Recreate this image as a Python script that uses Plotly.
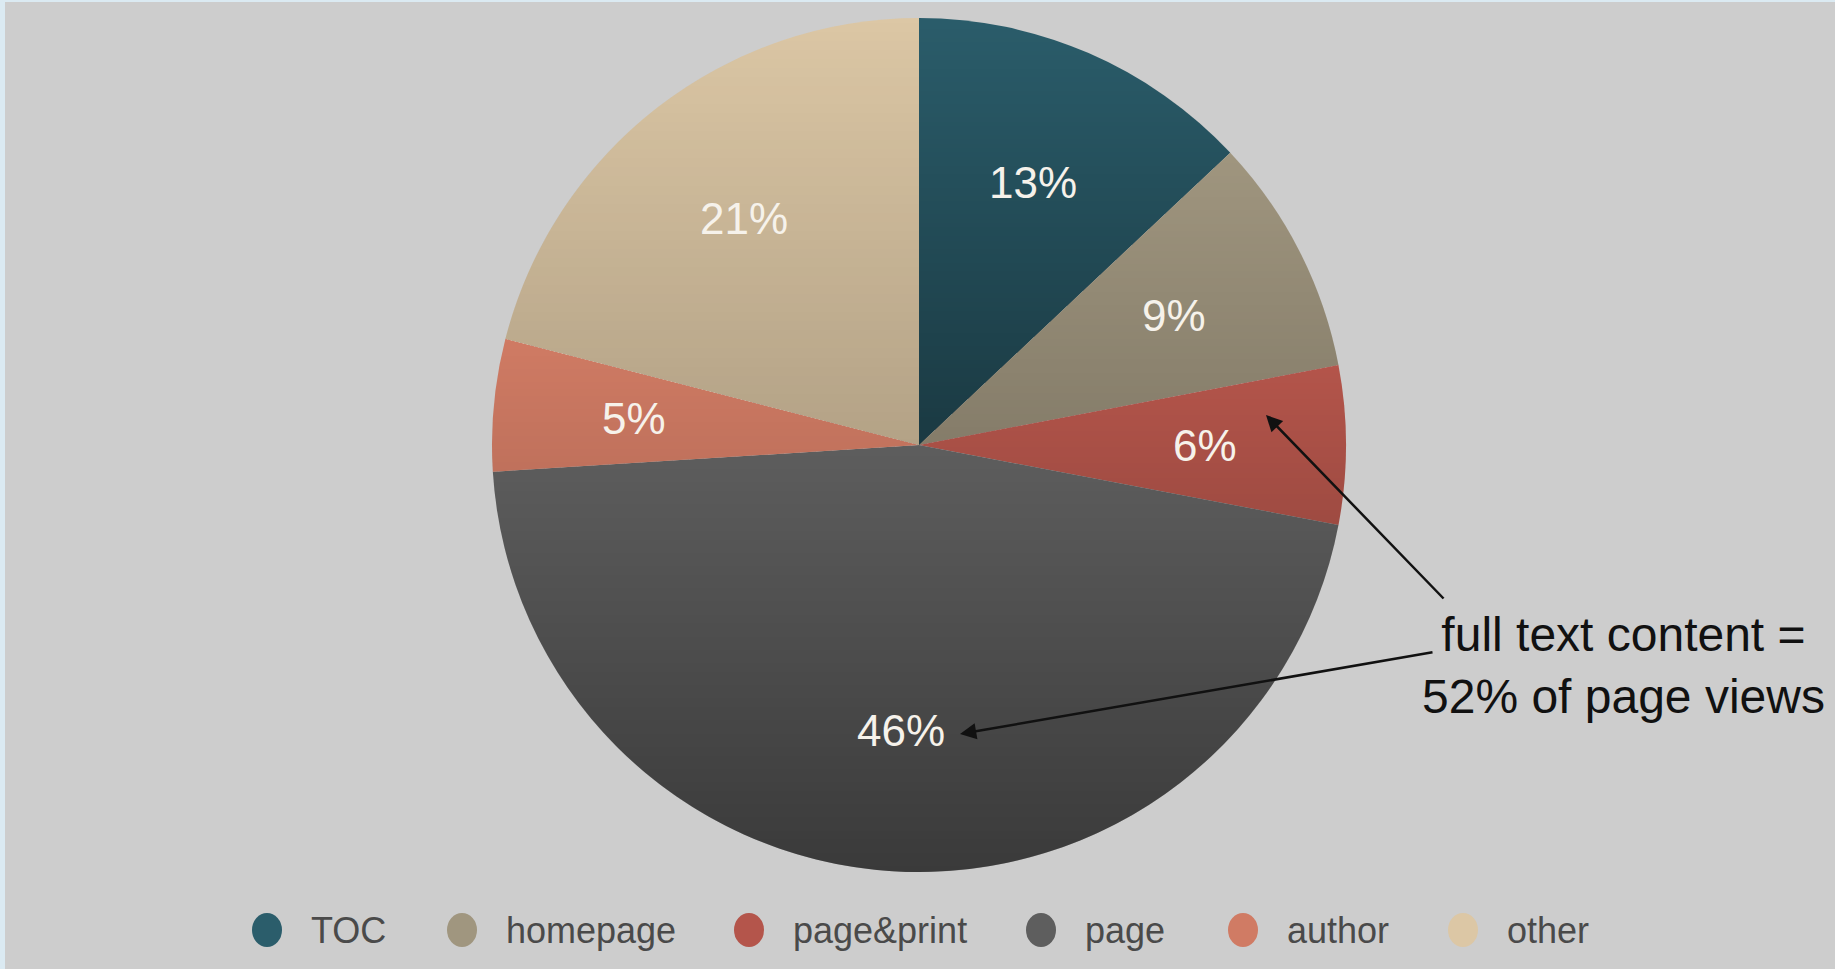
import base64
import struct
import zlib

import numpy as np
import plotly.graph_objects as go

# ---- data ----
categories = ["TOC", "homepage", "page&print", "page", "author", "other"]
percents = [13, 9, 6, 46, 5, 21]
colors = ["#2b5d6b", "#a0967f", "#b4554b", "#5e5e5e", "#d07b64", "#dcc7a5"]

note_text = "full text content =<br>52% of page views"

# ---- layout constants (pixels) ----
W, H = 1835, 969
cx, cy, r = 919, 445, 427
legend_dot_x = [267, 462, 749, 1041, 1243, 1463]
legend_y = 930
label_radius = 0.67
shade_drop = 36.0   # approximate darkening (in 0-255 units) over one radius of height


def px(x):
    return x / W


def py(y):
    return 1 - y / H


# ---- per-slice vertical shading overlay (derived from the data) ----
def png_rgba(arr):
    h, w, _ = arr.shape
    raw = b"".join(b"\x00" + arr[i].tobytes() for i in range(h))

    def chunk(t, d):
        c = struct.pack(">I", len(d)) + t + d
        return c + struct.pack(">I", zlib.crc32(t + d) & 0xFFFFFFFF)

    return (b"\x89PNG\r\n\x1a\n"
            + chunk(b"IHDR", struct.pack(">IIBBBBB", w, h, 8, 6, 0, 0, 0))
            + chunk(b"IDAT", zlib.compress(raw, 9))
            + chunk(b"IEND", b""))


def mean_channel(hexcol):
    h = hexcol.lstrip("#")
    return sum(int(h[k:k + 2], 16) for k in (0, 2, 4)) / 3.0


total = float(sum(percents))
cum = np.concatenate([[0.0], np.cumsum(percents) / total * 360.0])
N = 2 * r
yy, xx = np.mgrid[0:N, 0:N].astype(float) + 0.5
dx = xx - r
dy = yy - r
dist = np.hypot(dx, dy)
ang = (np.degrees(np.arctan2(dx, -dy)) + 360.0) % 360.0
idx = np.clip(np.searchsorted(cum[1:], ang, side="right"), 0, len(percents) - 1)
ymin = np.zeros(len(percents))
amax = np.array([min(0.38, shade_drop / mean_channel(c)) for c in colors])
for i in range(len(percents)):
    a = np.radians(np.linspace(cum[i], cum[i + 1], 400))
    ys = -r * np.cos(a)
    ymin[i] = min(0.0, ys.min())
t = np.clip((dy - ymin[idx]) / r, 0, 1)
edge = np.clip(r - dist + 0.5, 0, 1)
alpha = (amax[idx] * t * edge * 255).round().astype(np.uint8)
rgba = np.zeros((N, N, 4), dtype=np.uint8)
rgba[..., 3] = alpha
shade_uri = "data:image/png;base64," + base64.b64encode(png_rgba(rgba)).decode()

fig = go.Figure()
fig.add_trace(go.Pie(
    labels=categories,
    values=percents,
    sort=False,
    direction="clockwise",
    rotation=0,
    marker=dict(colors=colors, line=dict(width=0)),
    textinfo="none",
    hoverinfo="label+percent",
    showlegend=False,
    domain=dict(x=[px(cx - r), px(cx + r)], y=[py(cy + r), py(cy - r)]),
))

shapes = [dict(type="rect", xref="paper", yref="paper", x0=px(5), x1=1, y0=0, y1=py(2),
               fillcolor="#cdcdcd", line=dict(width=0), layer="below")]
annotations = []

# percentage labels on the slices (positions from the cumulative values)
for i, v in enumerate(percents):
    mid = np.radians((cum[i] + cum[i + 1]) / 2)
    lx = cx + label_radius * r * np.sin(mid)
    ly = cy - label_radius * r * np.cos(mid)
    annotations.append(dict(x=px(lx), y=py(ly), xref="paper", yref="paper",
                            text=f"{v}%", showarrow=False, xanchor="center", yanchor="middle",
                            font=dict(family="Liberation Sans Narrow, Arial, sans-serif",
                                      size=44, color="#f6f2eb")))

# legend
for cat, col, lx in zip(categories, colors, legend_dot_x):
    shapes.append(dict(type="circle", xref="paper", yref="paper",
                       x0=px(lx - 15), x1=px(lx + 15), y0=py(legend_y + 17), y1=py(legend_y - 17),
                       fillcolor=col, line=dict(width=0)))
    annotations.append(dict(x=px(lx + 42), y=py(legend_y), xref="paper", yref="paper",
                            text=cat, showarrow=False, xanchor="left", yanchor="middle",
                            font=dict(family="Liberation Sans Narrow, Arial, sans-serif",
                                      size=36, color="#4a4a4a")))

annotations.append(dict(x=px(1623), y=py(665), xref="paper", yref="paper", text=note_text,
                        showarrow=False, xanchor="center", yanchor="middle", align="center",
                        font=dict(family="Liberation Sans, Arial, sans-serif", size=48, color="#111111")))
# arrows
for (hx, hy), (tx, ty) in [((1266, 415), (1445, 600)), ((960, 734), (1434, 652))]:
    annotations.append(dict(x=px(hx), y=py(hy), xref="paper", yref="paper", text="",
                            showarrow=True, ax=tx - hx, ay=ty - hy, axref="pixel", ayref="pixel",
                            arrowhead=2, arrowsize=1.3, arrowwidth=2.5, arrowcolor="#111111", standoff=0))

fig.update_layout(
    width=W, height=H, autosize=False,
    margin=dict(l=0, r=0, t=0, b=0),
    paper_bgcolor="#dbeaf2",
    plot_bgcolor="#cdcdcd",
    shapes=shapes,
    annotations=annotations,
    images=[dict(source=shade_uri, xref="paper", yref="paper",
                 x=px(cx - r), y=py(cy - r), sizex=2 * r / W, sizey=2 * r / H,
                 xanchor="left", yanchor="top", sizing="stretch", layer="above")],
)

fig.write_html("out.html", config={"displayModeBar": False},
               post_script="document.body.style.margin='0';")
